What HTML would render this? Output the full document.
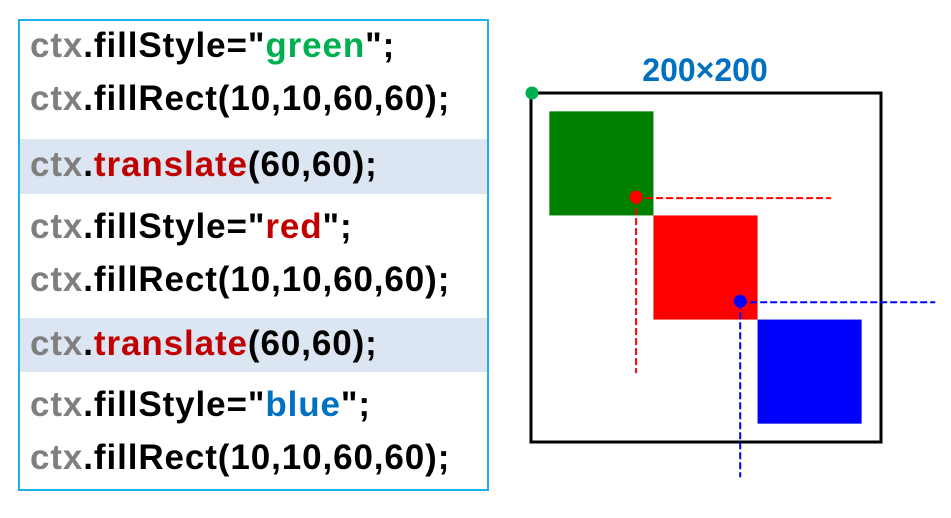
<!DOCTYPE html>
<html><head><meta charset="utf-8">
<style>
body{margin:0;width:951px;height:518px;background:#fff;overflow:hidden;position:relative;font-family:"Liberation Sans","DejaVu Sans",sans-serif}
#code{position:absolute;left:18px;top:19px;width:467px;height:468px;border:2px solid #1fb0ea}
.hl{position:absolute;left:0;width:467px;background:#dce6f2}
.ln{position:absolute;left:10px;font-weight:bold;font-size:35px;line-height:38px;color:#000;white-space:nowrap;letter-spacing:0.9px}
.g{color:#7f7f7f}.gr{color:#00b050}.rd{color:#c00000}.bl{color:#0070c0}
</style></head><body>
<div id="code">
<div class="hl" style="top:118px;height:55px"></div>
<div class="hl" style="top:297px;height:54px"></div>
<div class="ln" style="top:6px"><span class="g">ctx</span>.fillStyle="<span class="gr">green</span>";</div>
<div class="ln" style="top:59px"><span class="g">ctx</span>.fillRect(10,10,60,60);</div>
<div class="ln" style="top:125px"><span class="g">ctx</span>.<span class="rd">translate</span>(60,60);</div>
<div class="ln" style="top:187px"><span class="g">ctx</span>.fillStyle="<span class="rd">red</span>";</div>
<div class="ln" style="top:240px"><span class="g">ctx</span>.fillRect(10,10,60,60);</div>
<div class="ln" style="top:304px"><span class="g">ctx</span>.<span class="rd">translate</span>(60,60);</div>
<div class="ln" style="top:365px"><span class="g">ctx</span>.fillStyle="<span class="bl">blue</span>";</div>
<div class="ln" style="top:418px"><span class="g">ctx</span>.fillRect(10,10,60,60);</div>
</div>
<svg id="dia" width="951" height="518" style="position:absolute;left:0;top:0">
<text x="705" y="81" text-anchor="middle" font-size="32" font-weight="bold" fill="#0070c0" font-family="Liberation Sans, sans-serif">200×200</text>
<rect x="531" y="93" width="350" height="349" fill="none" stroke="#000" stroke-width="3"/>
</svg>
<script>
const colors=["green","red","blue"];
const offsets=[0,60,120];
const rectX=[10,10,10];
const rectY=[10,10,10];
const rectSize=[60,60,60];
const ox=532,oy=94,sc=1.735;
const sx=v=>ox+v*sc, sy=v=>oy+v*sc;
const svg=document.getElementById('dia');
const NS='http://www.w3.org/2000/svg';
function mk(t,a){const e=document.createElementNS(NS,t);for(const k in a)e.setAttribute(k,a[k]);svg.appendChild(e);return e;}
const fills={green:"#008000",red:"#ff0000",blue:"#0000ff"};
for(let i=0;i<colors.length;i++){
  const o=offsets[i];
  const r=mk('rect',{x:sx(o+rectX[i]),y:sy(o+rectY[i]),width:rectSize[i]*sc,height:rectSize[i]*sc,fill:fills[colors[i]]});
  
  
}
const dotCol=["#00b050","#ff0000","#0000ff"];
for(let i=0;i<offsets.length;i++){
  const o=offsets[i];
  if(i>0){
    const c=dotCol[i];
    const h=mk('line',{x1:sx(o),y1:sy(o),x2:sx(o)+195,y2:sy(o),stroke:c,'stroke-width':2,'stroke-dasharray':'7,3'});
    
    
    const v=mk('line',{x1:sx(o),y1:sy(o),x2:sx(o),y2:sy(o)+175,stroke:c,'stroke-width':2,'stroke-dasharray':'7,3'});
    
    
  }
  const d=mk('circle',{cx:sx(o),cy:sy(o)-1,r:6.5,fill:dotCol[i]});
  
  
}
</script>
</body></html>
